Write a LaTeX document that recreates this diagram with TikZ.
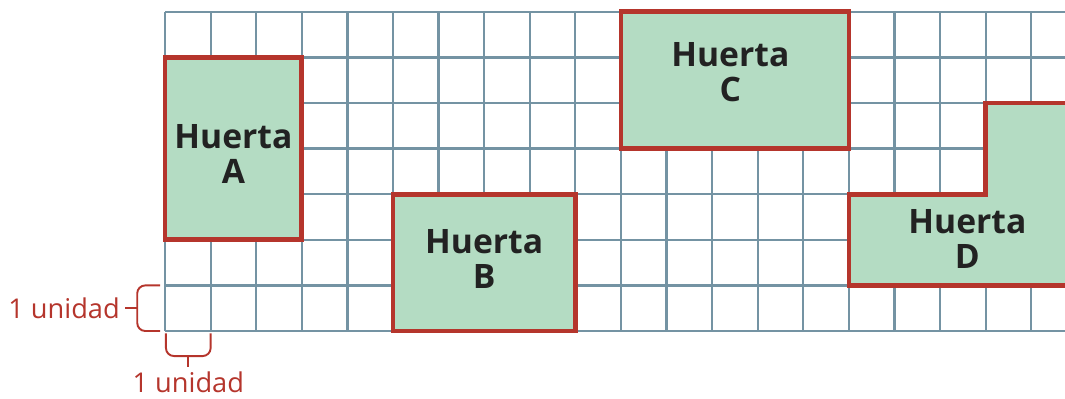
\documentclass[tikz,border=0pt]{standalone}
\usepackage{fontspec}
\setmainfont{Open Sans}
\usetikzlibrary{positioning}
\definecolor{huertared}{HTML}{B5352C}
\definecolor{huertagreen}{HTML}{B4DCC3}
\definecolor{gridblue}{HTML}{7493A3}
\definecolor{labeltext}{HTML}{222222}

\begin{document}
\begin{tikzpicture}[
    huerta/.style={draw=huertared,fill=huertagreen,line width=3pt,line join=miter},
    nombre/.style={align=center,text=labeltext,font=\fontsize{21}{22}\selectfont\bfseries},
    unidad/.style={text=huertared,font=\fontsize{17}{20}\selectfont,inner sep=3pt},
    llave/.style={draw=huertared,line width=1.2pt,rounded corners=5pt}
  ]
  \useasboundingbox (-3.62,-1.47) rectangle (19.74,7.26);
  \clip (-3.62,-1.47) rectangle (19.74,7.26);
  % cuadricula
  \draw[gridblue,line width=1.4pt] (0,0) grid (19.74,7);
  % huertas
  \draw[huerta] (0,2) rectangle (3,6);
  \node[nombre] (A) at (1.5,3.88) {Huerta\\A};
  \draw[huerta] (5,0) rectangle (9,3);
  \node[nombre] (B) at (7,1.58) {Huerta\\B};
  \draw[huerta] (10,4) rectangle (15,7);
  \node[nombre] (C) at (12.4,5.68) {Huerta\\C};
  \draw[huerta] (15,1) -- (20.2,1) -- (20.2,5) -- (18,5) -- (18,3) -- (15,3) -- cycle;
  \node[nombre] (D) at (17.6,2.02) {Huerta\\D};
  % llaves de una unidad
  \draw[llave] (-0.11,1) -- (-0.61,1) -- (-0.61,0) -- (-0.11,0);
  \coordinate (llaveizq) at (-0.61,0.5);
  \node[unidad,left=0.27cm of llaveizq] (uni1) {1 unidad};
  \draw[llave] (llaveizq) -- (uni1.east);
  \draw[llave] (0.02,-0.05) -- (0.02,-0.55) -- (1,-0.55) -- (1,-0.05);
  \coordinate (llaveabajo) at (0.51,-0.55);
  \node[unidad,below=0.24cm of llaveabajo] (uni2) {1 unidad};
  \draw[llave] (llaveabajo) -- (uni2.north);
\end{tikzpicture}
\end{document}
